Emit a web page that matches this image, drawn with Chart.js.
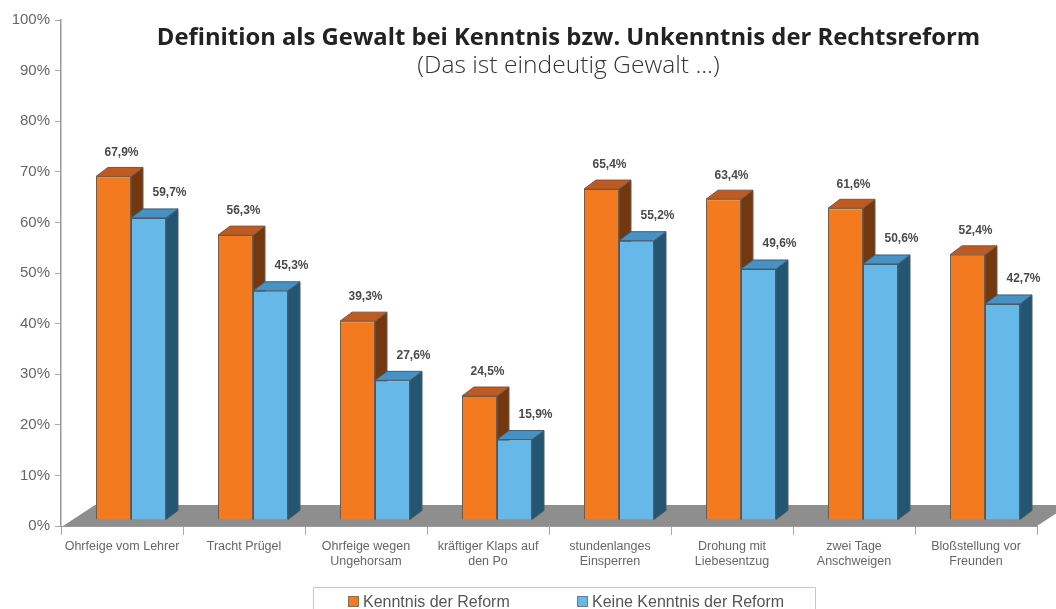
<!DOCTYPE html>
<html lang="de">
<head>
<meta charset="utf-8">
<title>Definition als Gewalt</title>
<script src="https://cdn.jsdelivr.net/npm/chart.js@4/dist/chart.umd.min.js"></script>
<style>
html,body{margin:0;padding:0;background:#fff;overflow:hidden}
canvas{display:block;filter:blur(0.55px)}
</style>
</head>
<body>
<canvas id="c" width="1056" height="609"></canvas>
<script>
const titleText = 'Definition als Gewalt bei Kenntnis bzw. Unkenntnis der Rechtsreform';
const subtitleText = '(Das ist eindeutig Gewalt ...)';
const categories = [
  'Ohrfeige vom Lehrer', 'Tracht Prügel', ['Ohrfeige wegen', 'Ungehorsam'],
  ['kräftiger Klaps auf', 'den Po'], ['stundenlanges', 'Einsperren'],
  ['Drohung mit', 'Liebesentzug'], ['zwei Tage', 'Anschweigen'], ['Bloßstellung vor', 'Freunden']
];
const seriesNames = ['Kenntnis der Reform', 'Keine Kenntnis der Reform'];
const kenntnis = [67.9, 56.3, 39.3, 24.5, 65.4, 63.4, 61.6, 52.4];
const keineKenntnis = [59.7, 45.3, 27.6, 15.9, 55.2, 49.6, 50.6, 42.7];

const FRONT = {dx: 9, dy: -6};   // front plane of the 3D bars relative to the axes
const DEPTH = {dx: 12, dy: -9};  // bar depth
const FLOOR = {dx: 32, dy: -21}; // floor depth
const faces = [
  {front: '#F47A20', top: '#BE5A22', side: '#73380F', edge: '#6f5a4a', lab: 8, laby: -24},
  {front: '#66B8E8', top: '#4792C4', side: '#235673', edge: '#4a5a66', lab: 21, laby: -25}
];

function poly(ctx, pts, fill, stroke) {
  ctx.beginPath();
  pts.forEach((p, i) => i ? ctx.lineTo(p[0], p[1]) : ctx.moveTo(p[0], p[1]));
  ctx.closePath();
  ctx.fillStyle = fill;
  ctx.fill();
  if (stroke) { ctx.strokeStyle = stroke; ctx.lineWidth = 1; ctx.stroke(); }
}

const threeD = {
  id: 'threeD',
  beforeDatasetsDraw(chart) {
    const {ctx, chartArea: a} = chart;
    poly(ctx, [[a.left + 2, a.bottom], [a.right, a.bottom], [a.right + FLOOR.dx, a.bottom + FLOOR.dy], [a.left + 2 + FLOOR.dx, a.bottom + FLOOR.dy]], '#8E8E8E');
    ctx.save();
    ctx.translate(FRONT.dx, FRONT.dy);
    [0, 1].forEach(i => {
      const f = faces[i];
      chart.getDatasetMeta(i).data.forEach(el => {
        const l = el.x - el.width / 2, r = el.x + el.width / 2, t = el.y, b = el.base;
        poly(ctx, [[r, t], [r + DEPTH.dx, t + DEPTH.dy], [r + DEPTH.dx, b + DEPTH.dy], [r, b]], f.side, f.edge);
        poly(ctx, [[l, t], [l + DEPTH.dx, t + DEPTH.dy], [r + DEPTH.dx, t + DEPTH.dy], [r, t]], f.top, f.edge);
      });
    });
    ctx.restore();
  },
  beforeDatasetDraw(chart) {
    chart.ctx.save();
    chart.ctx.translate(FRONT.dx, FRONT.dy);
  },
  afterDatasetDraw(chart) { chart.ctx.restore(); },
  afterDatasetsDraw(chart) {
    const {ctx} = chart;
    ctx.save();
    ctx.textAlign = 'center';
    ctx.textBaseline = 'middle';
    ctx.font = 'bold 12px "Liberation Sans"';
    ctx.fillStyle = '#4a4a4a';
    chart.data.datasets.forEach((ds, i) => {
      chart.getDatasetMeta(i).data.forEach((el, j) => {
        ctx.fillText(ds.data[j].toFixed(1).replace('.', ',') + '%', el.x + FRONT.dx + faces[i].lab, el.y + FRONT.dy + faces[i].laby);
      });
    });
    ctx.restore();
  },
  afterDraw(chart) {
    const {ctx} = chart;
    ctx.save();
    ctx.textAlign = 'center';
    ctx.textBaseline = 'alphabetic';
    ctx.fillStyle = '#222';
    ctx.font = 'bold 23.8px "Open Sans"';
    ctx.fillText(titleText, 568.5, 44.5);
    ctx.fillStyle = '#333';
    ctx.font = '300 24.6px "Open Sans"';
    ctx.fillText(subtitleText, 568.5, 73);
    // legend
    ctx.strokeStyle = '#c8c8c8';
    ctx.lineWidth = 1;
    ctx.beginPath();
    ctx.moveTo(313.5, 609); ctx.lineTo(313.5, 587.5); ctx.lineTo(815.5, 587.5); ctx.lineTo(815.5, 609);
    ctx.stroke();
    ctx.textAlign = 'left';
    ctx.textBaseline = 'middle';
    ctx.font = '16px "Liberation Sans"';
    [[348, seriesNames[0], faces[0].front, '#8a6a55'], [577, seriesNames[1], faces[1].front, '#66808f']].forEach(([x, t, c, e]) => {
      ctx.fillStyle = c;
      ctx.fillRect(x, 596, 10, 11);
      ctx.strokeStyle = e;
      ctx.strokeRect(x + .5, 596.5, 10, 10);
      ctx.fillStyle = '#555';
      ctx.fillText(t, x + 15, 602.5);
    });
    ctx.restore();
  }
};

new Chart(document.getElementById('c'), {
  type: 'bar',
  data: {
    labels: categories,
    datasets: [
      {label: seriesNames[0], data: kenntnis, backgroundColor: faces[0].front, borderColor: faces[0].edge, borderWidth: 1},
      {label: seriesNames[1], data: keineKenntnis, backgroundColor: faces[1].front, borderColor: faces[1].edge, borderWidth: 1}
    ]
  },
  options: {
    responsive: false,
    animation: false,
    layout: {padding: {top: 20, right: 19, left: 0, bottom: 0}},
    categoryPercentage: 0.574,
    barPercentage: 1,
    plugins: {legend: {display: false}, title: {display: false}, tooltip: {enabled: false}},
    scales: {
      x: {
        afterFit(s) { s.height = 83; },
        border: {color: '#999', width: 1},
        grid: {display: true, drawOnChartArea: false, tickLength: 9, color: '#aaa', offset: true},
        ticks: {color: '#666', font: {family: '"Liberation Sans"', size: 12.5, lineHeight: 1.2}, padding: 4, maxRotation: 0, autoSkip: false}
      },
      y: {
        min: 0, max: 100,
        afterFit(s) { s.width = 61; },
        border: {color: '#999', width: 1.5},
        grid: {display: true, drawOnChartArea: false, tickLength: 6, color: '#aaa'},
        ticks: {stepSize: 10, color: '#666', font: {family: '"Liberation Sans"', size: 15}, padding: 5, callback: v => v + '%'}
      }
    }
  },
  plugins: [threeD]
});
</script>
</body>
</html>
